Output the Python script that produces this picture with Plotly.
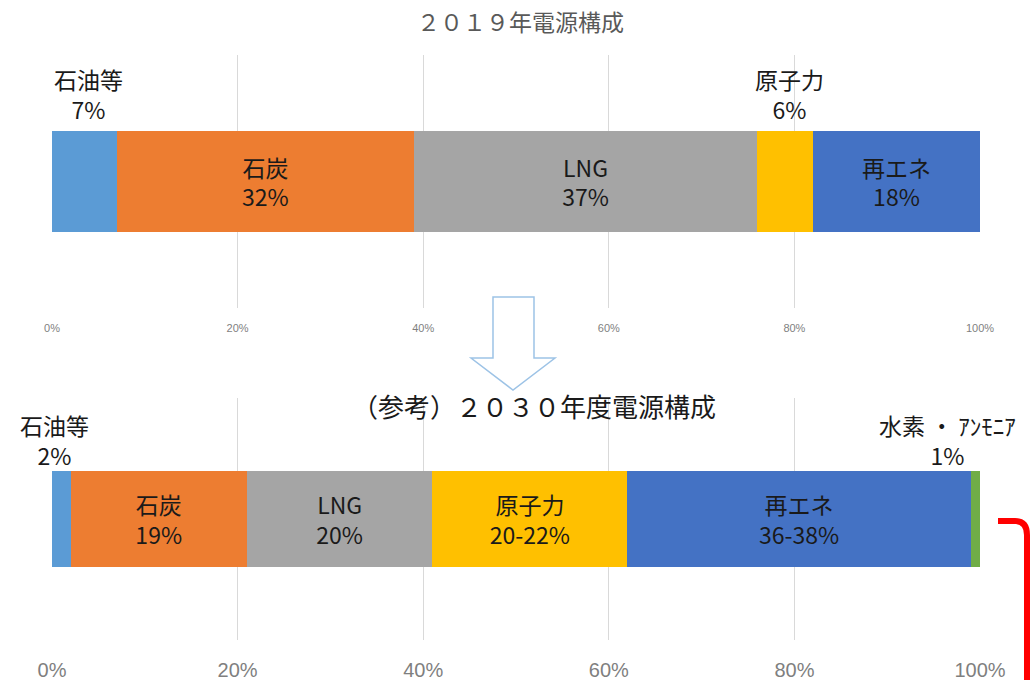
import plotly.graph_objects as go

W, H = 1033, 680

# ---- data ----
cats_2019 = ["石油等", "石炭", "LNG", "原子力", "再エネ"]
vals_2019 = [7, 32, 37, 6, 18]
pct_2019 = ["7%", "32%", "37%", "6%", "18%"]

cats_2030 = ["石油等", "石炭", "LNG", "原子力", "再エネ", "水素 ・ ｱﾝﾓﾆｱ"]
vals_2030 = [2, 19, 20, 21, 37, 1]
pct_2030 = ["2%", "19%", "20%", "20-22%", "36-38%", "1%"]

colors = {
    "石油等": "#5b9bd5",
    "石炭": "#ed7d31",
    "LNG": "#a5a5a5",
    "原子力": "#ffc000",
    "再エネ": "#4472c4",
    "水素 ・ ｱﾝﾓﾆｱ": "#70ad47",
}

tick_vals = [0, 20, 40, 60, 80, 100]
tick_text = ["0%", "20%", "40%", "60%", "80%", "100%"]

title_2019 = "２０１９年電源構成"
title_2030 = "（参考）２０３０年度電源構成"

# outside labels (small segments): category -> (xshift, yshift)
outside_2019 = {"石油等": (4, 3), "原子力": (4, 3)}
outside_2030 = {"石油等": (-7, -3), "水素 ・ ｱﾝﾓﾆｱ": (-28, -3)}

CJK = "Noto Sans CJK JP"
LABEL_SIZE = 23

def px(x):
    return x / W

def py(y):
    return 1 - y / H

fig = go.Figure()
annotations = []

def add_bars(cats, vals, pcts, xa, ya, outside, size):
    cum = 0
    for c, v, p in zip(cats, vals, pcts):
        inside = c not in outside
        fig.add_trace(go.Bar(
            x=[v], y=[""], orientation="h",
            xaxis=xa, yaxis=ya,
            marker=dict(color=colors[c], line=dict(width=0)),
            width=0.4,
            text=[f"{c}<br>{p}" if inside else ""],
            textposition="inside", insidetextanchor="middle",
            textfont=dict(family=CJK, size=size, color="#1a1a1a"),
            hoverinfo="skip", showlegend=False,
        ))
        if not inside:
            xs, ys = outside[c]
            annotations.append(dict(
                x=cum + v / 2, y=0.2,
                xref=xa, yref=ya,
                text=f"{c}<br>{p}", showarrow=False,
                yanchor="bottom", xanchor="center",
                xshift=xs, yshift=ys,
                font=dict(family=CJK, size=size, color="#1a1a1a"),
            ))
        cum += v

add_bars(cats_2019, vals_2019, pct_2019, "x", "y", outside_2019, LABEL_SIZE)
add_bars(cats_2030, vals_2030, pct_2030, "x2", "y2", outside_2030, LABEL_SIZE)

xdom = [px(52), px(980)]
common_x = dict(range=[0, 100], tickvals=tick_vals, ticktext=tick_text,
                showgrid=True, gridcolor="#d9d9d9", gridwidth=1,
                zeroline=False, showline=False, ticks="outside",
                tickcolor="rgba(0,0,0,0)", domain=xdom, fixedrange=True,
                automargin=False)
common_y = dict(range=[-0.5, 0.5], showticklabels=False, showgrid=False,
                zeroline=False, fixedrange=True, automargin=False)

fig.update_layout(
    width=W, height=H, autosize=False,
    margin=dict(l=0, r=0, t=0, b=0, pad=0),
    paper_bgcolor="white", plot_bgcolor="white",
    barmode="stack", showlegend=False,
    xaxis=dict(**common_x, anchor="y", ticklen=10,
               tickfont=dict(family="Liberation Sans", size=11, color="#7f7f7f")),
    yaxis=dict(**common_y, domain=[py(308), py(55)]),
    xaxis2=dict(**common_x, anchor="y2", ticklen=12,
                tickfont=dict(family="Liberation Sans", size=20, color="#7f7f7f")),
    yaxis2=dict(**common_y, domain=[py(640), py(398)]),
)

# titles
annotations.append(dict(x=px(520), y=py(21), xref="paper", yref="paper",
                        xanchor="center", yanchor="middle",
                        text=title_2019, showarrow=False,
                        font=dict(family=CJK, size=23, color="#595959")))
annotations.append(dict(x=px(534), y=py(405), xref="paper", yref="paper",
                        xanchor="center", yanchor="middle",
                        text=title_2030, showarrow=False,
                        font=dict(family=CJK, size=26, color="#1a1a1a")))
fig.update_layout(annotations=annotations)

# down arrow (outline)
pts = [(493, 297), (534, 297), (534, 358), (555, 358), (513, 390), (471, 358), (493, 358)]
path = "M " + " L ".join(f"{px(a):.5f},{py(b):.5f}" for a, b in pts) + " Z"
shapes = [dict(type="path", path=path, xref="paper", yref="paper",
               line=dict(color="#9dc3e6", width=1.5), fillcolor="white", layer="above")]
# red bracket
bracket = (f"M {px(998):.5f},{py(521):.5f} L {px(1015):.5f},{py(521):.5f} "
           f"Q {px(1027):.5f},{py(521):.5f} {px(1027):.5f},{py(535):.5f} "
           f"L {px(1027):.5f},{py(690):.5f}")
shapes.append(dict(type="path", path=bracket, xref="paper", yref="paper",
                   line=dict(color="#ff0000", width=6), layer="above"))
fig.update_layout(shapes=shapes)

fig.write_html("out.html", config={"displayModeBar": False})
